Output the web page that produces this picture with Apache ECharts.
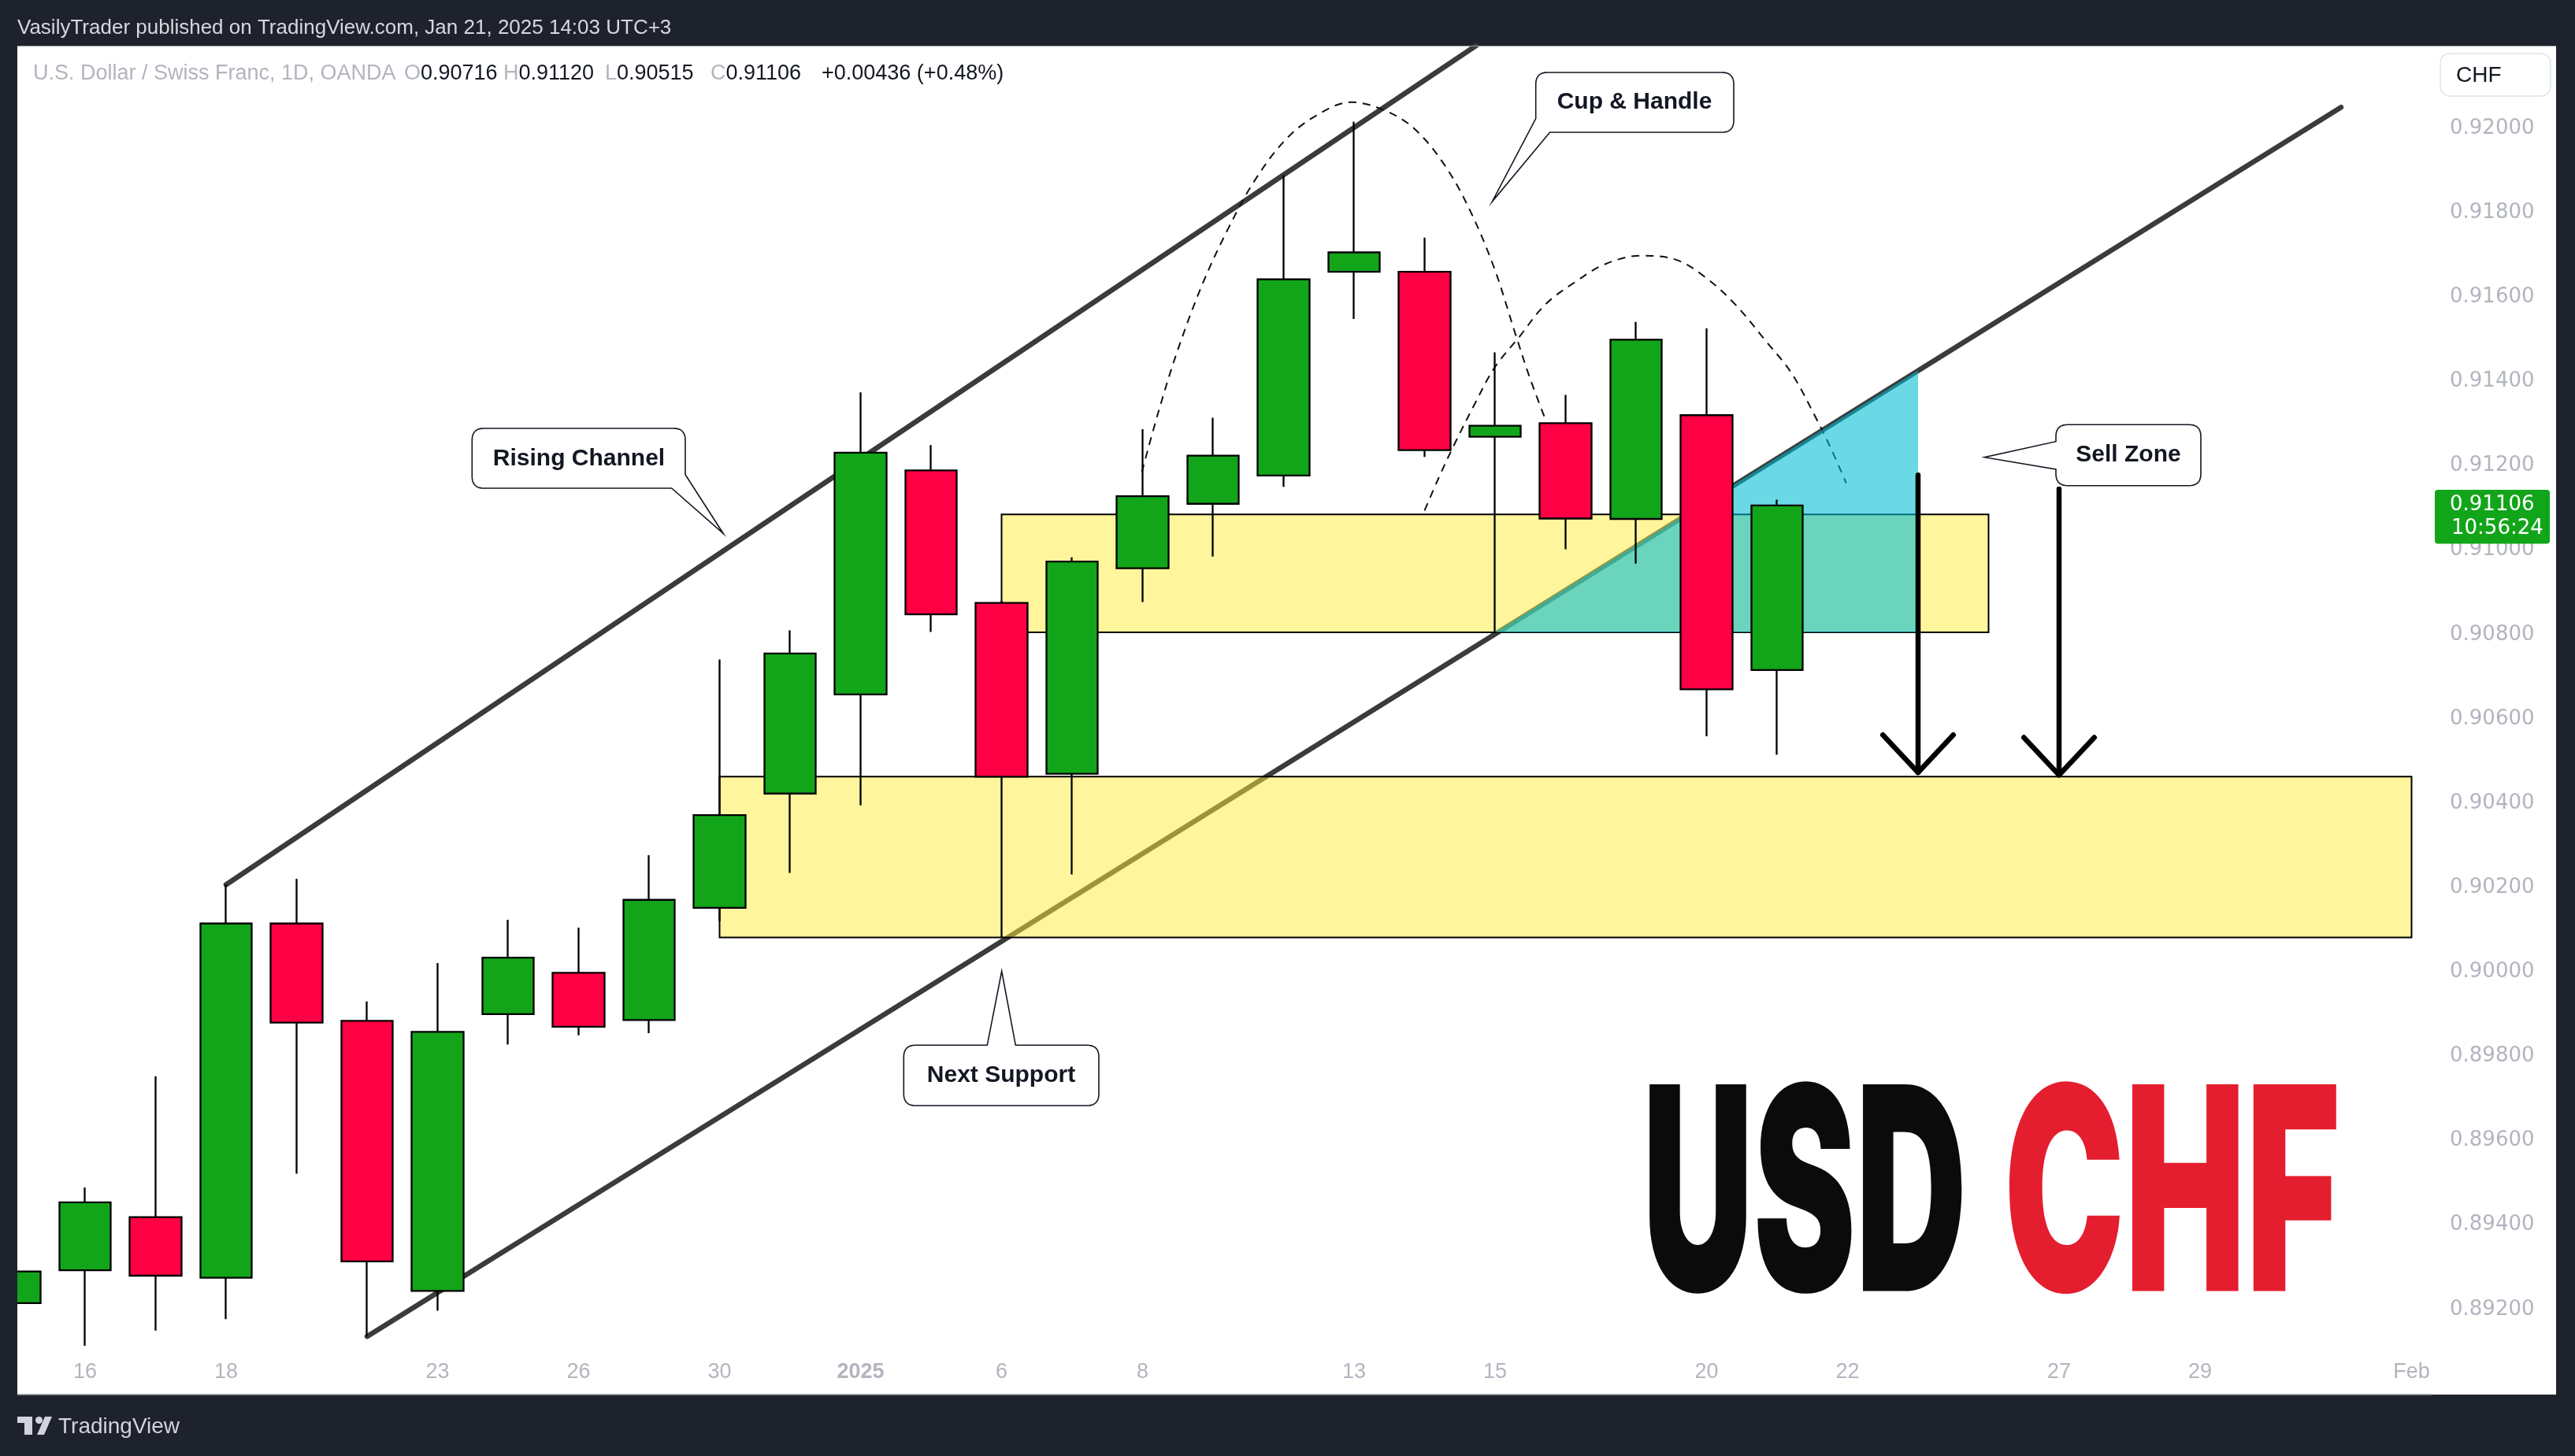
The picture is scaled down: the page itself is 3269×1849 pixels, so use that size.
<!DOCTYPE html>
<html>
<head>
<meta charset="utf-8">
<script src="https://cdn.jsdelivr.net/npm/echarts@6/dist/echarts.min.js"></script>
<style>
html,body{margin:0;padding:0;background:#1e222d;}
#c{width:3269px;height:1849px;}
</style>
</head>
<body>
<div id="c"></div>
<script>
// ---------------- DATA ----------------
const dates = ['Dec 13','Dec 16','Dec 17','Dec 18','Dec 19','Dec 20','Dec 23','Dec 24','Dec 26','Dec 27','Dec 30','Dec 31',
  'Jan 2','Jan 3','Jan 6','Jan 7','Jan 8','Jan 9','Jan 10','Jan 13','Jan 14','Jan 15','Jan 16','Jan 17','Jan 20','Jan 21'];
const opens  = [0.89215,0.89293,0.89419,0.89275,0.90115,0.89884,0.89244,0.89900,0.89998,0.89886,0.90152,0.90423,
  0.90658,0.91189,0.90875,0.90470,0.90957,0.91110,0.91177,0.91660,0.91660,0.91269,0.91301,0.91074,0.91320,0.90716];
const closes = [0.89290,0.89454,0.89280,0.90115,0.89880,0.89314,0.89858,0.90034,0.89870,0.90171,0.90372,0.90755,
  0.91231,0.90848,0.90463,0.90973,0.91128,0.91224,0.91642,0.91706,0.91237,0.91295,0.91075,0.91499,0.90670,0.91106];
const lows   = [0.89170,0.89114,0.89150,0.89177,0.89522,0.89136,0.89197,0.89828,0.89850,0.89855,0.90120,0.90235,
  0.90395,0.90806,0.90081,0.90231,0.90877,0.90985,0.91150,0.91548,0.91221,0.90805,0.91002,0.90968,0.90559,0.90515];
const highs  = [0.89330,0.89489,0.89753,0.90207,0.90221,0.89930,0.90021,0.90124,0.90105,0.90277,0.90741,0.90810,
  0.91374,0.91249,0.90880,0.90983,0.91287,0.91314,0.91889,0.92016,0.91741,0.91469,0.91368,0.91541,0.91526,0.91120];

// bar-index tick labels (26 traded days + future days to Feb 3)
const xTickLabels = ['','16','','18','','','23','','26','','30','','2025','','6','','8','','','13','','15','','','20','','22','','','27','','29','','','Feb'];

// price axis
const yMin = 0.890, yMax = 0.92196, yStep = 0.002;

// drawings, in [bar index, price]
const upperChannel = [[3, 0.90207], [20.73, 0.92196]];
const lowerChannel = [[5, 0.89136], [33, 0.92050]];
const sellZone    = [14, 28, 0.90805, 0.91085];   // [x0, x1, low, high]
const supportZone = [10, 34, 0.90082, 0.90463];
const breakTriangle = [[21, 0.90805], [27, 0.91426], [27, 0.90805]];
const cupArc = [[15.99,0.91185],[16.22,0.91325],[16.50,0.91475],[16.86,0.91635],[17.22,0.91764],[17.57,0.91871],
  [18.00,0.91968],[18.43,0.92027],[18.96,0.92062],[19.43,0.92043],[19.85,0.92000],[20.28,0.91914],[20.64,0.91807],
  [20.99,0.91668],[21.28,0.91517],[21.49,0.91410],[21.71,0.91312]];
const handleArc = [[20.00,0.91094],[20.21,0.91175],[20.42,0.91250],[20.71,0.91346],[20.99,0.91432],[21.35,0.91507],
  [21.71,0.91582],[22.13,0.91635],[22.56,0.91678],[23.06,0.91698],[23.56,0.91689],[23.99,0.91646],[24.41,0.91582],
  [24.84,0.91496],[25.20,0.91421],[25.55,0.91314],[25.77,0.91239],[25.98,0.91159]];
const arrowShaftA = [[27, 0.91178], [27, 0.90473]];
const arrowHeadA  = [[26.5, 0.90562], [27, 0.90473], [27.5, 0.90562]];
const arrowShaftB = [[29, 0.91145], [29, 0.90467]];
const arrowHeadB  = [[28.5, 0.90556], [29, 0.90467], [29.5, 0.90556]];

// ---------------- CHART ----------------
const W = 3269, H = 1849;
const GRID = {left: 18.5, right: 181, top: 58, bottom: 79};
const xMax = (W - GRID.left - GRID.right) / 89.5;

const UP = '#12a51a', DOWN = '#ff0044';
const candleData = opens.map((o, i) => [i, o, closes[i], lows[i], highs[i]]);

const chart = echarts.init(document.getElementById('c'), null, {renderer: 'canvas', width: W, height: H});

function lineSeries(data, style, z, smooth) {
  return {type: 'line', data: data, symbol: 'none', smooth: smooth || false, z: z, silent: true,
    lineStyle: style, clip: true, animation: false};
}

const option = {
  backgroundColor: '#1e222d',
  animation: false,
  grid: Object.assign({containLabel: false, outerBoundsMode: 'none'}, GRID),
  xAxis: {
    type: 'value', min: 0, max: xMax, interval: 1,
    axisLine: {show: false}, axisTick: {show: false}, splitLine: {show: false},
    axisLabel: {
      inside: true, margin: 27, verticalAlign: 'middle',
      color: '#b2b5be', fontFamily: 'Liberation Sans', fontSize: 27,
      showMaxLabel: false,
      formatter: function (v) {
        const r = Math.round(v);
        if (Math.abs(v - r) > 1e-6) return '';
        const s = xTickLabels[r] || '';
        return s === '2025' ? '{b|2025}' : s;
      },
      rich: {b: {fontWeight: 'bold', color: '#b2b5be', fontFamily: 'Liberation Sans', fontSize: 27}}
    }
  },
  yAxis: {
    type: 'value', position: 'right', min: yMin, max: yMax, interval: yStep,
    axisLine: {show: false}, axisTick: {show: false}, splitLine: {show: false},
    axisLabel: {
      margin: 22, color: '#b2b5be', fontFamily: 'DejaVu Sans', fontSize: 26,
      showMinLabel: false, showMaxLabel: false,
      formatter: v => v.toFixed(5)
    }
  },
  series: [
    lineSeries(upperChannel, {color: '#3b3b3b', width: 6.5, cap: 'round'}, 2),
    lineSeries(lowerChannel, {color: '#3b3b3b', width: 6.5, cap: 'round'}, 2),
    {
      type: 'custom', z: 3, silent: true, animation: false,
      data: [sellZone, supportZone],
      encode: {x: [0, 1], y: [2, 3]},
      renderItem: function (params, api) {
        const p0 = api.coord([api.value(0), api.value(3)]);
        const p1 = api.coord([api.value(1), api.value(2)]);
        return {type: 'rect', shape: {x: p0[0], y: p0[1], width: p1[0] - p0[0], height: p1[1] - p0[1]},
          style: {fill: 'rgba(255,235,59,0.5)', stroke: '#000', lineWidth: 2}};
      }
    },
    lineSeries(cupArc, {color: '#111', width: 2, type: [10, 8]}, 4, 0.35),
    lineSeries(handleArc, {color: '#111', width: 2, type: [10, 8]}, 4, 0.35),
    {
      type: 'custom', z: 5, silent: true, animation: false,
      data: [0],
      renderItem: function (params, api) {
        const pts = breakTriangle.map(p => api.coord(p));
        return {type: 'polygon', shape: {points: pts}, style: {fill: 'rgba(0,188,212,0.58)'}};
      }
    },
    {
      type: 'candlestick', z: 6, silent: true, animation: false,
      data: candleData, encode: {x: 0, y: [1, 2, 3, 4]},
      barWidth: 66,
      itemStyle: {color: UP, color0: DOWN, borderColor: '#000', borderColor0: '#000', borderColorDoji: '#000', borderWidth: 2.3}
    },
    lineSeries(arrowShaftA, {color: '#000', width: 6.5, cap: 'round'}, 7),
    lineSeries(arrowHeadA, {color: '#000', width: 6.5, cap: 'round', join: 'round'}, 7),
    lineSeries(arrowShaftB, {color: '#000', width: 6.5, cap: 'round'}, 7),
    lineSeries(arrowHeadB, {color: '#000', width: 6.5, cap: 'round', join: 'round'}, 7)
  ]
};
chart.setOption(option);

// ---------------- GRAPHICS (layout / decorations) ----------------
const last = closes.length - 1;
const chg = closes[last] - closes[last - 1];
const pct = chg / closes[last - 1] * 100;
const sgn = v => (v >= 0 ? '+' : '') + v;

const ctx = document.createElement('canvas').getContext('2d');
function measure(text, font) { ctx.font = font; return ctx.measureText(text).width; }

const bigFont = '900 361px Inter, "Liberation Sans"';
const usdScale = (2497 - 2085) / measure('USD', bigFont);
const chfScale = (2971 - 2544) / measure('CHF', bigFont);

const tagY = chart.convertToPixel({yAxisIndex: 0}, closes[last]);

// outline with optionally rounded corners: [[x, y, radius], ...]
function roundedOutline(verts) {
  const out = [];
  const n = verts.length;
  for (let i = 0; i < n; i++) {
    const v = verts[i], r = v[2] || 0;
    if (!r) { out.push([v[0], v[1]]); continue; }
    const p = verts[(i - 1 + n) % n], q = verts[(i + 1) % n];
    const d1x = p[0] - v[0], d1y = p[1] - v[1], l1 = Math.hypot(d1x, d1y);
    const d2x = q[0] - v[0], d2y = q[1] - v[1], l2 = Math.hypot(d2x, d2y);
    const a = [v[0] + d1x / l1 * r, v[1] + d1y / l1 * r];
    const b = [v[0] + d2x / l2 * r, v[1] + d2y / l2 * r];
    for (let k = 0; k <= 10; k++) {
      const t = k / 10, u = 1 - t;
      out.push([u * u * a[0] + 2 * u * t * v[0] + t * t * b[0], u * u * a[1] + 2 * u * t * v[1] + t * t * b[1]]);
    }
  }
  return out;
}
function bubble(verts, text, cx, cy) {
  return [
    {type: 'polygon', z: 50, shape: {points: roundedOutline(verts)}, style: {fill: '#fff', stroke: '#131722', lineWidth: 1.6}},
    {type: 'text', z: 51, x: cx, y: cy, style: {text: text, font: 'bold 30px "Liberation Sans", Arial', fill: '#131722',
      align: 'center', verticalAlign: 'middle', textAlign: 'center', textVerticalAlign: 'middle'}}
  ];
}
const txt = (x, y, text, font, fill, extra) => Object.assign({type: 'text', z: 60, x: x, y: y,
  style: Object.assign({text: text, font: font, fill: fill, align: 'left', verticalAlign: 'middle', textAlign: 'left', textVerticalAlign: 'middle'}, extra || {})});

const legendFont = '27px "Liberation Sans", Arial';
const richLegend = {g: {fill: '#b2b5be', font: legendFont}, v: {fill: '#131722', font: legendFont}};
const graphics = [
  // white chart panel
  {type: 'rect', z: -10, shape: {x: 22, y: 58, width: 3223, height: 1713}, style: {fill: '#ffffff'}},
  {type: 'line', z: 60, shape: {x1: 22, y1: 1771, x2: 3088, y2: 1771}, style: {stroke: '#9598a1', lineWidth: 1.5}},
  {type: 'line', z: 60, shape: {x1: 22, y1: 58.5, x2: 3245, y2: 58.5}, style: {stroke: '#9598a1', lineWidth: 1}},
  // left dark border over the clipped first candle
  {type: 'rect', z: 100, shape: {x: 0, y: 50, width: 22, height: 1730}, style: {fill: '#1e222d'}},
  // header
  txt(22, 36, 'VasilyTrader published on TradingView.com, Jan 21, 2025 14:03 UTC+3', '26px "Liberation Sans", Arial', '#d6d8de'),
  txt(42, 94, 'U.S. Dollar / Swiss Franc, 1D, OANDA', legendFont, '#b2b5be'),
  txt(513, 94, '{g|O}{v|' + opens[last].toFixed(5) + '}', legendFont, '#131722', {rich: richLegend}),
  txt(639, 94, '{g|H}{v|' + highs[last].toFixed(5) + '}', legendFont, '#131722', {rich: richLegend}),
  txt(768, 94, '{g|L}{v|' + lows[last].toFixed(5) + '}', legendFont, '#131722', {rich: richLegend}),
  txt(902, 94, '{g|C}{v|' + closes[last].toFixed(5) + '}', legendFont, '#131722', {rich: richLegend}),
  txt(1043, 94, sgn(chg.toFixed(5)) + ' (' + sgn(pct.toFixed(2)) + '%)', legendFont, '#131722'),
  // currency box
  {type: 'rect', z: 60, shape: {x: 3098, y: 68, width: 140, height: 54, r: 12}, style: {fill: '#fff', stroke: '#e0e3eb', lineWidth: 1.5}},
  txt(3118, 96, 'CHF', '28px "Liberation Sans", Arial', '#131722'),
  // last price tag
  {type: 'rect', z: 60, shape: {x: 3091, y: tagY - 20, width: 146, height: 68.5, r: 4}, style: {fill: UP}},
  txt(3110, tagY - 1, closes[last].toFixed(5), '26px "DejaVu Sans"', '#ffffff'),
  txt(3112, tagY + 29, '10:56:24', '26px "DejaVu Sans"', '#ffffff'),
  // footer
  {type: 'polygon', z: 60, shape: {points: [[22,1799],[41,1799],[41,1822],[31,1822],[31,1807],[22,1807]]}, style: {fill: '#d1d4dc'}},
  {type: 'circle', z: 60, shape: {cx: 49.5, cy: 1803.5, r: 4.5}, style: {fill: '#d1d4dc'}},
  {type: 'polygon', z: 60, shape: {points: [[57,1799],[66,1799],[56,1822],[47,1822]]}, style: {fill: '#d1d4dc'}},
  txt(74, 1812, 'TradingView', '28px "Liberation Sans", Arial', '#d1d4dc'),
  // big ticker
  {type: 'text', z: 40, x: 2085, y: 1531, scaleX: usdScale, style: {text: 'USD', font: bigFont, fill: '#0b0b0b',
    align: 'left', verticalAlign: 'middle', textAlign: 'left', textVerticalAlign: 'middle'}},
  {type: 'text', z: 40, x: 2544, y: 1531, scaleX: chfScale, style: {text: 'CHF', font: bigFont, fill: '#e41e2e',
    align: 'left', verticalAlign: 'middle', textAlign: 'left', textVerticalAlign: 'middle'}}
]
.concat(bubble([[599.3,544,15],[870,544,15],[870,602.7,0],[918.3,677.7,0],[852.7,620,0],[599.3,620,15]], 'Rising Channel', 735, 583))
.concat(bubble([[1147.3,1327.3,15],[1253.3,1327.3,0],[1271.7,1233.3,0],[1289.3,1327.3,0],[1395,1327.3,15],[1395,1404,15],[1147.3,1404,15]], 'Next Support', 1271, 1366))
.concat(bubble([[2610,539.3,15],[2794,539.3,15],[2794,616.7,15],[2610,616.7,15],[2610,596,0],[2519.3,580.7,0],[2610,560.7,0]], 'Sell Zone', 2702, 578))
.concat(bubble([[1949.7,92,15],[2201,92,15],[2201,168,15],[1967.6,168,0],[1894.3,256.1,0],[1949.7,150.5,0]], 'Cup & Handle', 2075, 130));

chart.setOption({graphic: {elements: graphics}});
</script>
</body>
</html>
